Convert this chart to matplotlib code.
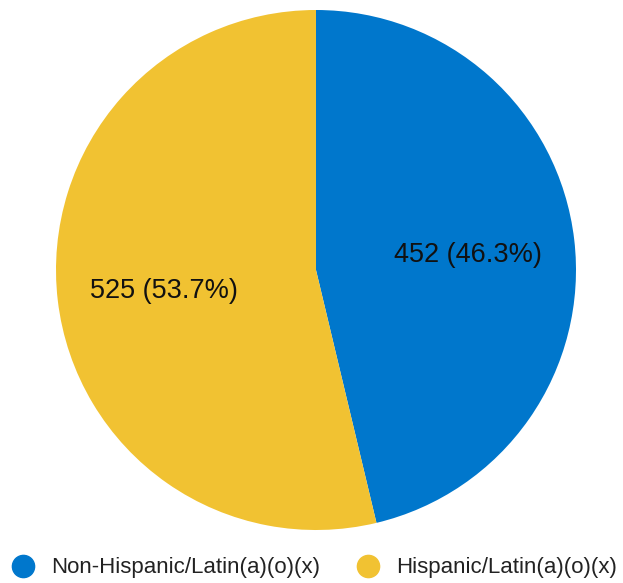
import matplotlib.pyplot as plt
from matplotlib.lines import Line2D

labels = ['Non-Hispanic/Latin(a)(o)(x)', 'Hispanic/Latin(a)(o)(x)']
counts = [452, 525]
colors = ['#0077CC', '#F1C232']

plt.rcParams['font.family'] = ['Liberation Sans', 'DejaVu Sans']

fig = plt.figure(figsize=(6.23, 5.83), dpi=100)
ax = fig.add_axes([56 / 623, 53 / 583, 520 / 623, 520 / 583])

total = sum(counts)

def fmt(pct):
    n = int(round(pct * total / 100.0))
    return '{} ({:.1f}%)'.format(n, pct)

wedges, texts = ax.pie(counts, colors=colors, startangle=90, counterclock=False,
                       labels=[fmt(c * 100.0 / total) for c in counts],
                       labeldistance=0.59, radius=1.0,
                       textprops={'fontsize': 19.5, 'color': '#111111'})
for t in texts:
    t.set_ha('center')
    t.set_va('center_baseline')
ax.set_xlim(-1, 1)
ax.set_ylim(-1, 1)
ax.set_aspect('equal')

handles = [Line2D([], [], marker='o', linestyle='none', markersize=16,
                  markerfacecolor=c, markeredgecolor=c) for c in colors]
fig.legend(handles, labels, loc='center', bbox_to_anchor=(314.5 / 623, 1 - 568 / 583),
           ncol=2, frameon=False, fontsize=16, handlelength=1.0,
           handletextpad=0.76, columnspacing=1.67, labelcolor='#222222',
           borderaxespad=0, borderpad=0)

fig.savefig('out.png', dpi=100)
